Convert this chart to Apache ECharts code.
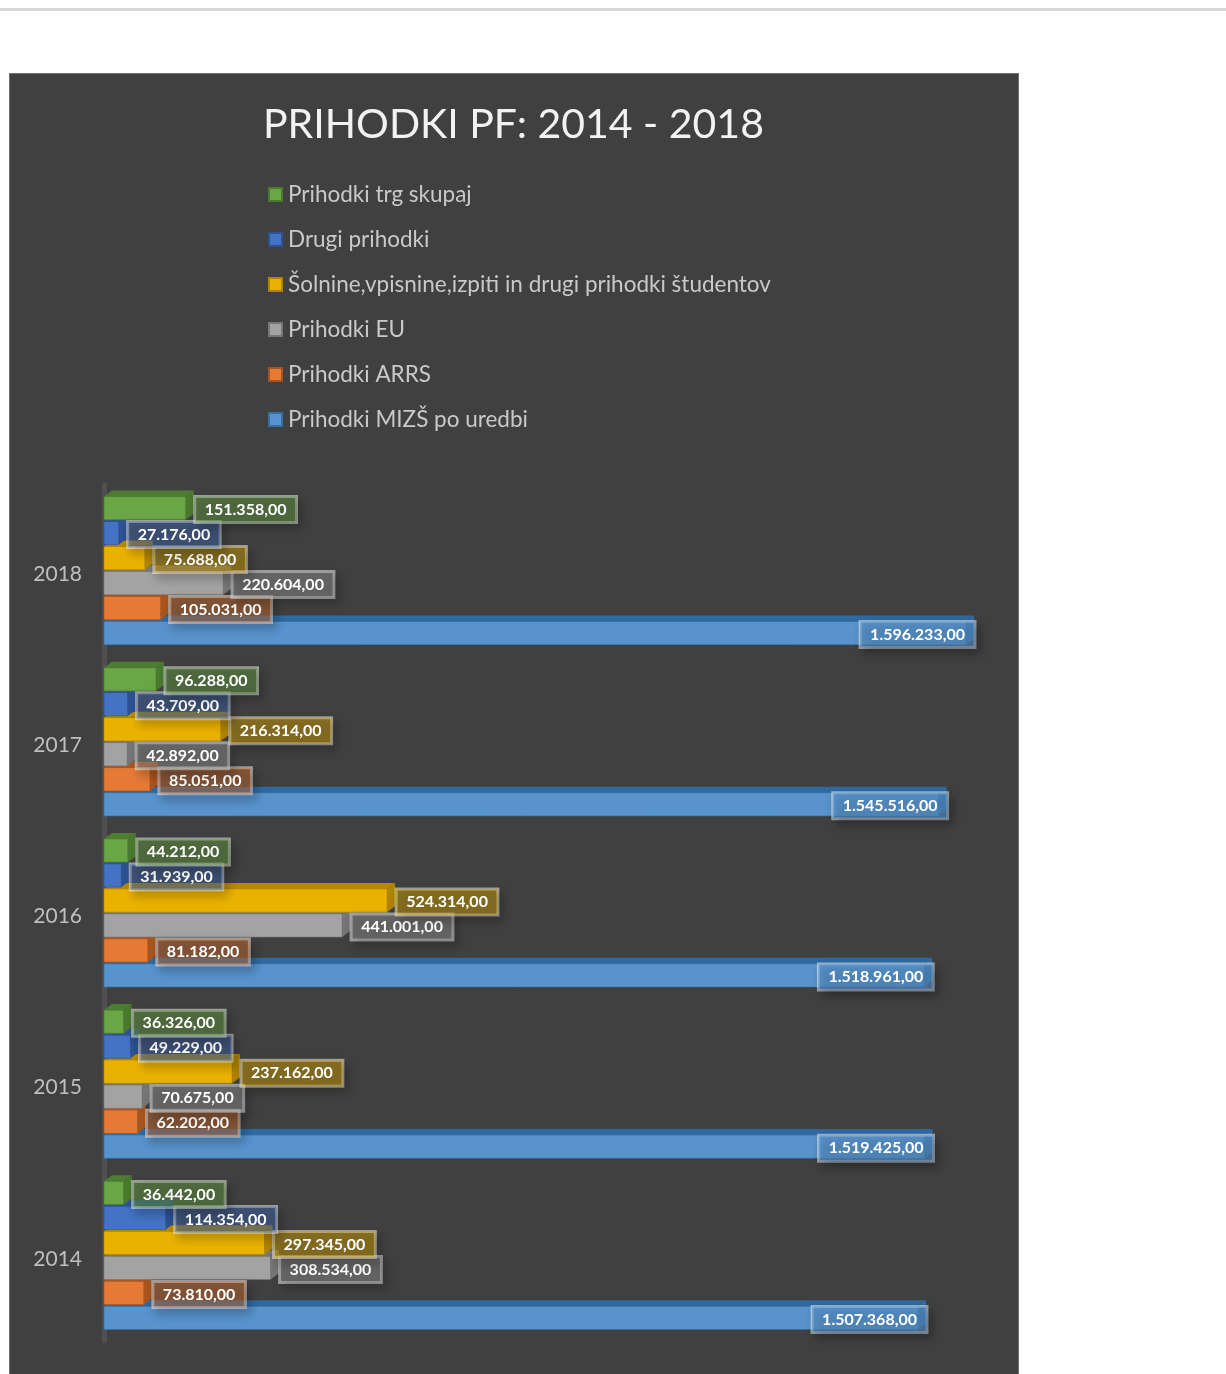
<!DOCTYPE html>
<html>
<head>
<meta charset="utf-8">
<script src="https://cdn.jsdelivr.net/npm/echarts@6/dist/echarts.min.js"></script>
<style>
  html, body { margin: 0; padding: 0; background: #ffffff; }
  #topline { position: absolute; left: 0; top: 8px; width: 1226px; height: 3px; background: #d9d9d9; }
  #panel { position: absolute; left: 9px; top: 73px; width: 1010px; height: 1320px; background: #404040; border: 1px solid #707070; box-sizing: border-box; }
  #chart { position: absolute; left: 0; top: 0; width: 1226px; height: 1374px; }
</style>
</head>
<body>
<div id="topline"></div>
<div id="panel"></div>
<div id="chart"></div>
<script>
// ---- data ----
const categories = ['2014', '2015', '2016', '2017', '2018'];
const legendOrder = [
  'Prihodki trg skupaj',
  'Drugi prihodki',
  'Šolnine,vpisnine,izpiti in drugi prihodki študentov',
  'Prihodki EU',
  'Prihodki ARRS',
  'Prihodki MIZŠ po uredbi'
];
const trgSkupaj = [36442, 36326, 44212, 96288, 151358];
const drugiPrihodki = [114354, 49229, 31939, 43709, 27176];
const solnine = [297345, 237162, 524314, 216314, 75688];
const prihodkiEU = [308534, 70675, 441001, 42892, 220604];
const prihodkiARRS = [73810, 62202, 81182, 85051, 105031];
const prihodkiMIZS = [1507368, 1519425, 1518961, 1545516, 1596233];

// ---- styles ----
const styles = [
  { front: '#6aa646', top: '#4d7d31', side: '#4a7a2e', label: 'rgba(106,166,70,0.45)' },
  { front: '#4472c4', top: '#2f5597', side: '#2d5292', label: 'rgba(68,114,196,0.42)' },
  { front: '#eab200', top: '#b88a00', side: '#b08400', label: 'rgba(234,178,0,0.42)' },
  { front: '#a3a3a3', top: '#777777', side: '#767676', label: 'rgba(163,163,163,0.42)' },
  { front: '#e57a35', top: '#ad5620', side: '#a9541f', label: 'rgba(229,122,53,0.42)' },
  { front: '#5893cc', top: '#2e6aa2', side: '#346fa6', label: 'rgba(88,147,204,0.6)' }
];
const seriesValues = [trgSkupaj, drugiPrihodki, solnine, prihodkiEU, prihodkiARRS, prihodkiMIZS];

function fmt(v) {
  const s = Math.round(v).toString();
  let out = '';
  for (let i = 0; i < s.length; i++) {
    if (i > 0 && (s.length - i) % 3 === 0) out += '.';
    out += s[i];
  }
  return out + ',00';
}

function makeRender(k) {
  const st = styles[k];
  const inside = (k === 5);
  return function (params, api) {
    const v = api.value(0);
    const ci = api.value(1);
    const end = api.coord([v, ci]);
    const start = api.coord([0, ci]);
    const band = api.size([0, 1])[1];
    const pitch = band * 25 / 171.25;
    const h = pitch * 0.93;
    const yc = end[1] + (k - 2.5) * pitch;
    const x0 = start[0], x1 = end[0];
    const dx = 8, dy = 6;
    const top = yc - h / 2, bot = yc + h / 2;
    return {
      type: 'group',
      children: [
        { type: 'polygon', shape: { points: [[x0, top], [x0 + dx, top - dy], [x1 + dx, top - dy], [x1, top]] },
          style: { fill: st.top } },
        { type: 'polygon', shape: { points: [[x1, top], [x1 + dx, top - dy], [x1 + dx, bot - dy], [x1, bot]] },
          style: { fill: st.side } },
        { type: 'rect', shape: { x: x0, y: top, width: x1 - x0, height: h },
          style: { fill: st.front, stroke: st.side, lineWidth: 0.6 } },
        { type: 'text', z2: 100,
          style: {
            text: fmt(v),
            x: x1 + 9,
            y: yc + 1.5,
            align: inside ? 'right' : 'left',
            verticalAlign: 'middle',
            fill: '#ffffff',
            fontSize: 16,
            fontWeight: 'bold',
            fontFamily: 'Lato',
            backgroundColor: st.label,
            borderColor: 'rgba(255,255,255,0.5)',
            borderWidth: 1.5,
            padding: [5, 10, 5, 10],
            shadowColor: 'rgba(0,0,0,0.45)',
            shadowBlur: 10,
            shadowOffsetX: 4,
            shadowOffsetY: 5
          } }
      ]
    };
  };
}

// draw lower bars first so upper bars overlay their top faces
const series = [];
for (let k = 5; k >= 0; k--) {
  series.push({
    type: 'custom',
    name: legendOrder[k],
    renderItem: makeRender(k),
    encode: { x: 0, y: 1 },
    itemStyle: { color: styles[k].front, borderColor: styles[k].side, borderWidth: 1 },
    data: seriesValues[k].map((v, i) => [v, i])
  });
}

const chart = echarts.init(document.getElementById('chart'));
chart.setOption({
  backgroundColor: 'transparent',
  animation: false,
  title: {
    text: 'PRIHODKI PF: 2014 - 2018',
    left: 258,
    top: 99,
    textStyle: { color: '#f2f2f2', fontSize: 41, fontWeight: 'normal', fontFamily: 'Lato' }
  },
  legend: {
    orient: 'vertical',
    left: 263,
    top: 177,
    data: legendOrder,
    icon: 'rect',
    itemWidth: 13,
    itemHeight: 13,
    itemGap: 20,
    textStyle: { color: '#c9c9c9', fontSize: 22.5, fontFamily: 'Lato', lineHeight: 25, padding: [0, 0, 0, 1] }
  },
  grid: { left: 104, right: 204, top: 485, bottom: 33 },
  xAxis: { type: 'value', min: 0, max: 1700000, show: false },
  yAxis: {
    type: 'category',
    data: categories,
    axisTick: { show: false },
    axisLine: { show: true, lineStyle: { color: '#4f4f4f', width: 5 } },
    axisLabel: { color: '#bfbfbf', fontSize: 21, fontFamily: 'Lato', margin: 22, verticalAlign: 'top', lineHeight: 7 }
  },
  series: series
});
</script>
</body>
</html>
